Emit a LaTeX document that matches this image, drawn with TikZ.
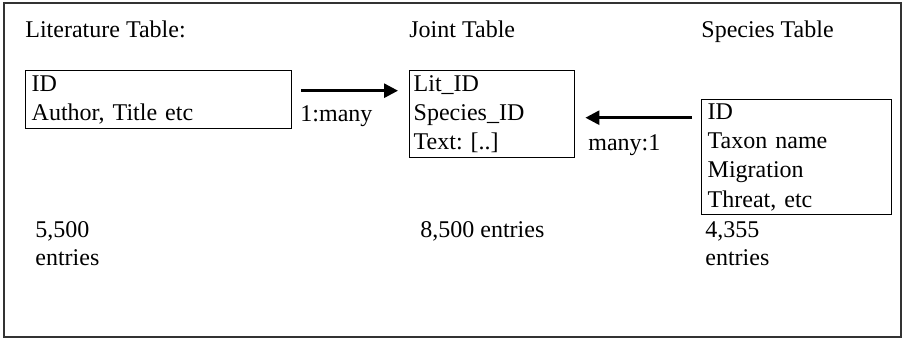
\documentclass[tikz,border=0pt]{standalone}
\usepackage{fontspec}
\setmainfont{Liberation Serif}
\usepackage{tikz}
\usetikzlibrary{calc}
\usetikzlibrary{arrows.meta,positioning}
\newcommand{\tsize}{\fontsize{12}{14}\selectfont\frenchspacing}
\newcommand{\bsize}{\fontsize{12}{14.6}\selectfont\frenchspacing}

\tikzset{
  tbl/.style={draw,line width=0.7pt,anchor=north west,align=left,
    inner xsep=3pt,inner ysep=1pt,font=\bsize},
  lbl/.style={inner sep=0pt,anchor=base west,font=\tsize},
  cnt/.style={inner sep=0pt,anchor=north west,align=left,font=\tsize},
  link/.style={line width=1.4pt,-{Triangle[length=7pt,width=7pt]}},
}

\begin{document}
\begin{tikzpicture}[x=0.5pt,y=-0.5pt]
    \useasboundingbox (0,0) rectangle (903,340);
    \draw[line width=0.8pt,black!80] (4,3) rectangle (901,337);
    % table headings
    \node[lbl] (litT) at (25,38) {Literature Table:};
    \node[lbl] (jntT) at (409,38) {Joint Table};
    \node[lbl] (spcT) at (701,38) {Species Table};
    % the three tables
    \node[tbl,text width=127pt,minimum height=29pt] (lit) at (25,70)
      {ID\\Author, Title etc};
    \node[tbl,text width=78.5pt,minimum height=43.5pt,inner xsep=2pt] (jnt) at (409,70)
      {Lit\_ID\\Species\_ID\\Text: [..]};
    \node[tbl,text width=89pt,minimum height=57.5pt,inner ysep=0pt] (spc) at (701,99)
      {ID\\Taxon name\\Migration\\Threat, etc};
    % links between them
    \draw[link] ([shift={(9,-9)}]lit.east) -- ([shift={(-11,-9)}]lit.east -| jnt.west);
    \draw[link] ([shift={(-9,3.5)}]jnt.east -| spc.west) -- ([shift={(10,3.5)}]jnt.east);
    \node[lbl] (one) at (300,122) {1:many};
    \node[lbl] (many) at (588,151) {many:1};
    % row counts
    \node[cnt] (litN) at (35,221) {5,500\\entries};
    \node[cnt] (jntN) at (420,221) {8,500 entries};
    \node[cnt] (spcN) at (705,221) {4,355\\entries};
  \end{tikzpicture}
\end{document}
